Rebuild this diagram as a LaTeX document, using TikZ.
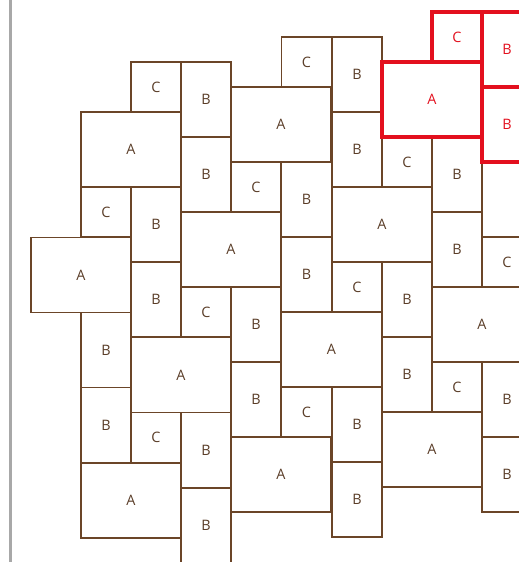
\documentclass[tikz,border=0pt]{standalone}
\usepackage{fontspec}
\setmainfont{Open Sans}
\definecolor{tilebrown}{HTML}{6B4528}
\definecolor{tiletext}{HTML}{5A3D28}
\definecolor{hired}{HTML}{E3101E}
\definecolor{edgegray}{HTML}{A8A8A8}
\begin{document}
\begin{tikzpicture}[x=0.75pt,y=-0.75pt,
  tile/.style={draw=tilebrown,line width=1.2pt,fill=white,anchor=north west,inner sep=0pt,outer sep=0pt,text=tiletext,font=\fontsize{10.8}{12}\selectfont},
  tA/.style={tile,minimum width=75pt,minimum height=56.25pt},
  tB/.style={tile,minimum width=37.5pt,minimum height=56.25pt},
  tC/.style={tile,minimum width=37.5pt,minimum height=37.5pt},
  hot/.style={draw=hired,line width=2.8pt,text=hired}]
\useasboundingbox (0,0) rectangle (519,562);
\clip (0,0) rectangle (519,562);
\fill[white] (0,0) rectangle (519,562);
\draw[edgegray,line width=1.5pt] (10.5,0) -- (10.5,562);
% brown tiles
\node[tC] (t1) at (131,62) {C};
\node[tB] (t2) at (181,62) {B};
\node[tA] (t3) at (81,112) {A};
\node[tB] (t4) at (181,137) {B};
\node[tA] (t5) at (231,87) {A};
\node[tC] (t6) at (281.5,37) {C};
\node[tB] (t7) at (332,37) {B};
\node[tB] (t8) at (332,112) {B};
\node[tC] (t9) at (382,137) {C};
\node[tB] (t10) at (432,137) {B};
\node[tC] (t11) at (231,162) {C};
\node[tB] (t12) at (281.5,162) {B};
\node[tA] (t13) at (332,187) {A};
\node[tC] (t14) at (81,187) {C};
\node[tB] (t15) at (131,187) {B};
\node[tA] (t16) at (181,212) {A};
\node[tB] (t17) at (432,212) {B};
\node[tC] (t18) at (482,237) {C};
\node[tA] (t19) at (31,237.5) {A};
\node[tB] (t20) at (131,262) {B};
\node[tB] (t21) at (281.5,237) {B};
\node[tC] (t22) at (332,262) {C};
\node[tB] (t23) at (382,262) {B};
\node[tC] (t24) at (181,287) {C};
\node[tB] (t25) at (231,287) {B};
\node[tA] (t26) at (432,287) {A};
\node[tA] (t27) at (281.5,312) {A};
\node[tB] (t28) at (81,312.5) {B};
\node[tA] (t29) at (131,337.5) {A};
\node[tB] (t30) at (382,337) {B};
\node[tB] (t31) at (231,362) {B};
\node[tC] (t32) at (432,362) {C};
\node[tB] (t33) at (482,362) {B};
\node[tC] (t34) at (281.5,387.5) {C};
\node[tB] (t35) at (332,387) {B};
\node[tB] (t36) at (81,387.5) {B};
\node[tC] (t37) at (131,412.5) {C};
\node[tB] (t38) at (181,412.5) {B};
\node[tA] (t39) at (382,412) {A};
\node[tA] (t40) at (231,437) {A};
\node[tB] (t41) at (482,437) {B};
\node[tB] (t42) at (332,462) {B};
\node[tA] (t43) at (81,463) {A};
\node[tB] (t44) at (181,488) {B};
% highlighted tiles
\node[tC,hot] (r1) at (432,12) {C};
\node[tB,hot] (r2) at (482,12) {B};
\node[tB,hot] (r3) at (482,87) {B};
\node[tA,hot] (r4) at (382,62) {A};
\end{tikzpicture}
\end{document}
